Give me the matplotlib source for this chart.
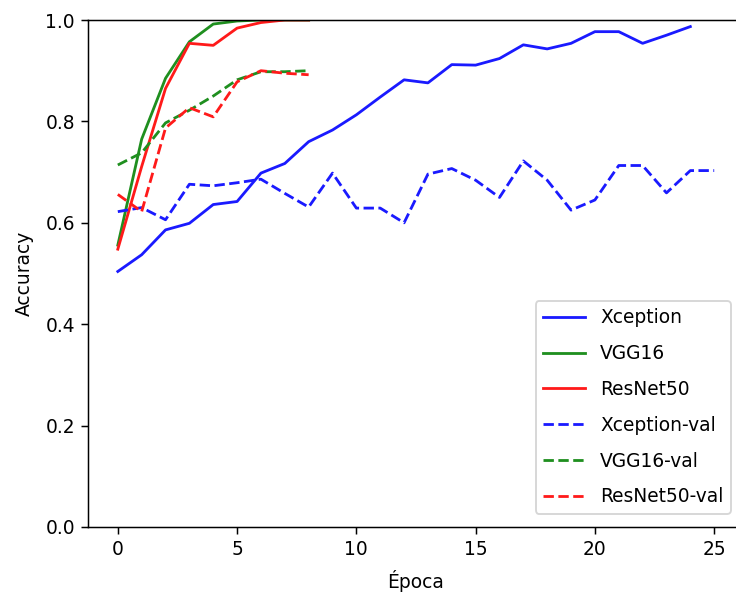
import matplotlib
matplotlib.use("Agg")
import matplotlib.pyplot as plt

# accuracy per epoch
xception = [0.504, 0.537, 0.586, 0.599, 0.636, 0.642, 0.698, 0.717, 0.760, 0.783,
            0.813, 0.848, 0.882, 0.876, 0.912, 0.911, 0.924, 0.951, 0.943, 0.954,
            0.977, 0.977, 0.954, 0.970, 0.987]
xception_val = [0.622, 0.630, 0.606, 0.676, 0.673, 0.679, 0.686, 0.658, 0.631, 0.698,
                0.629, 0.629, 0.600, 0.696, 0.707, 0.684, 0.650, 0.722, 0.684, 0.625,
                0.645, 0.713, 0.713, 0.659, 0.703, 0.703]
vgg16 = [0.556, 0.765, 0.885, 0.957, 0.992, 0.998, 1.0, 1.0, 1.0]
resnet50 = [0.548, 0.711, 0.865, 0.954, 0.950, 0.984, 0.995, 1.0, 1.0]
vgg16_val = [0.714, 0.738, 0.797, 0.822, 0.850, 0.882, 0.898, 0.898, 0.900]
resnet50_val = [0.656, 0.622, 0.787, 0.827, 0.809, 0.878, 0.900, 0.895, 0.892]

labels = ['Xception', 'VGG16', 'ResNet50', 'Xception-val', 'VGG16-val', 'ResNet50-val']
blue, green, red = '#1a1aff', '#1f8f1f', '#ff1a1a'

dpi = 134.6
fig = plt.figure(figsize=(736 / dpi, 603 / dpi), dpi=dpi)
# right edge of the axes falls outside the picture, as in the cropped original
ax = fig.add_axes([88 / 736, 76 / 603, 656 / 736, 507 / 603])

ax.plot(range(len(xception)), xception, '-', color=blue, label=labels[0])
ax.plot(range(len(vgg16)), vgg16, '-', color=green, label=labels[1])
ax.plot(range(len(resnet50)), resnet50, '-', color=red, label=labels[2])
ax.plot(range(len(xception_val)), xception_val, '--', color=blue, label=labels[3])
ax.plot(range(len(vgg16_val)), vgg16_val, '--', color=green, label=labels[4])
ax.plot(range(len(resnet50_val)), resnet50_val, '--', color=red, label=labels[5])

ax.set_ylim(0, 1.0)
ax.set_xlabel('Época', labelpad=6)
ax.set_ylabel('Accuracy', labelpad=6)
ax.legend(loc='lower right', labelspacing=0.9, handlelength=2.25, borderaxespad=0.7)

fig.savefig('out.png', dpi=dpi)
